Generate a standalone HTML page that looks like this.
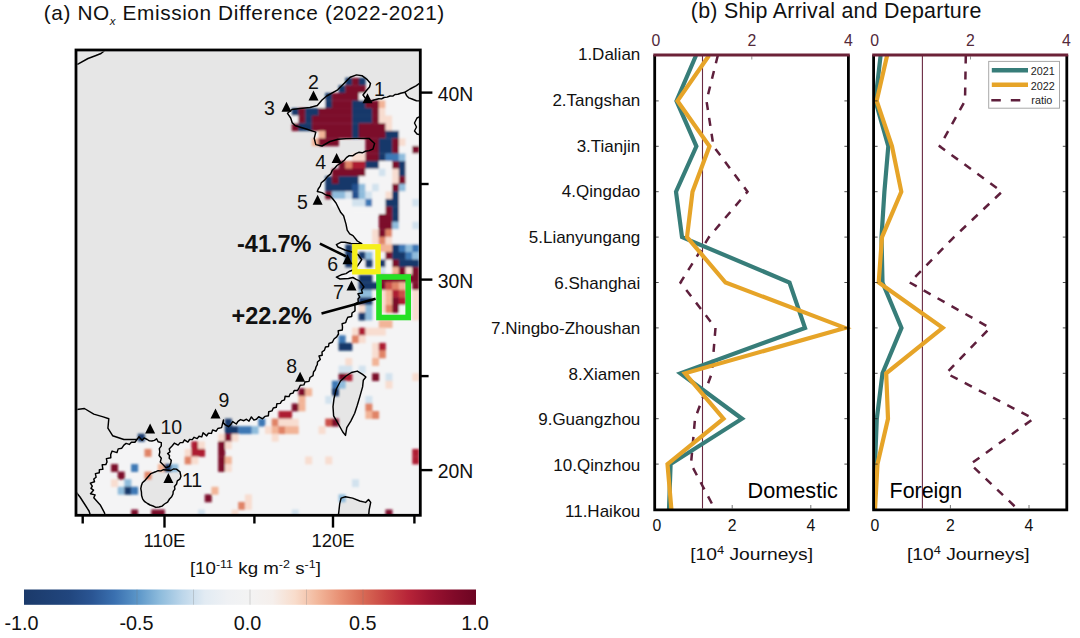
<!DOCTYPE html><html><head><meta charset="utf-8"><title>Figure</title><style>html,body{margin:0;padding:0;background:#fff;width:1080px;height:638px;overflow:hidden}svg{display:block}</style></head><body><svg width="1080" height="638" viewBox="0 0 1080 638" font-family="'Liberation Sans', Arial, sans-serif">
<rect width="1080" height="638" fill="#fff"/>
<text x="43.8" y="19.6" font-size="20.8" fill="#111" textLength="400.5" lengthAdjust="spacing">(a) NO<tspan font-size="11.5" font-style="italic" dy="5.3">x</tspan><tspan dy="-5.3"> Emission Difference (2022-2021)</tspan></text>
<defs><clipPath id="mc"><rect x="77.4" y="51.4" width="341.6" height="462.5"/></clipPath></defs>
<g clip-path="url(#mc)">
<rect x="76" y="50" width="346" height="468" fill="#f4f4f5"/>
<polygon points="76.0,50.0 421.0,50.0 421.0,101.0 416.4,100.7 412.0,99.0 408.9,97.9 406.5,95.4 405.0,92.2 400.7,93.3 397.9,94.3 395.0,94.5 392.8,96.1 390.0,96.0 387.1,97.1 384.0,97.5 381.6,98.9 378.8,98.8 374.0,100.0 370.0,101.5 366.0,99.0 363.0,95.0 366.0,91.0 369.5,87.0 370.5,83.5 367.3,79.7 362.0,75.7 356.5,74.9 350.2,77.2 344.0,83.5 337.7,89.8 326.7,96.0 322.0,100.0 317.3,105.5 310.0,107.5 300.0,108.5 292.0,109.5 287.5,113.3 290.7,118.0 292.2,122.7 295.4,125.8 306.3,129.0 315.8,132.1 314.2,138.4 315.8,144.6 322.0,146.0 330.0,141.5 338.0,139.2 346.0,138.6 356.5,138.4 369.0,138.4 374.6,143.5 373.0,149.0 369.2,150.6 365.2,151.3 362.2,152.8 358.8,152.3 355.8,153.7 353.0,155.7 349.2,155.6 346.4,157.6 344.3,160.2 341.7,162.3 337.0,165.5 334.8,168.0 332.3,170.2 330.7,173.9 327.6,176.4 324.8,179.9 321.3,182.7 320.2,186.1 318.2,189.0 317.3,191.5 322.0,192.6 326.0,195.0 329.8,195.8 332.5,198.5 336.0,203.0 340.8,212.6 343.6,215.7 346.0,224.1 347.2,230.1 349.7,233.8 353.0,235.6 357.3,241.0 361.7,243.7 351.0,243.5 344.8,242.2 341.2,242.2 336.4,244.6 338.0,247.0 345.0,250.0 352.0,252.0 358.4,255.0 361.7,259.6 359.5,263.0 357.3,266.2 353.0,270.0 349.7,271.2 346.0,273.6 341.2,274.8 336.4,277.2 340.0,279.0 348.5,278.5 352.9,277.5 356.2,279.4 359.4,280.9 361.7,283.7 363.9,287.0 361.5,290.0 362.5,293.0 358.0,293.8 359.8,297.1 358.0,299.0 358.3,302.2 354.7,303.9 355.0,307.0 355.0,310.8 352.0,313.0 351.7,316.5 347.8,317.2 346.5,320.0 345.7,322.6 342.1,323.7 342.5,327.0 342.3,330.0 338.2,330.7 338.5,334.0 336.7,336.9 334.0,339.0 332.4,342.2 329.0,343.5 328.5,346.5 325.5,347.0 324.5,350.1 322.0,352.0 322.2,355.3 319.0,356.0 320.3,359.5 317.5,362.0 317.3,364.7 316.0,367.0 315.3,369.8 313.5,372.0 313.0,375.6 310.0,377.5 309.0,381.4 305.0,382.0 303.9,384.9 300.3,385.3 299.0,388.0 297.5,390.5 294.3,390.4 293.0,393.1 290.3,393.8 289.0,396.6 285.1,396.3 284.5,399.9 281.8,400.9 280.3,403.4 276.9,403.7 276.3,407.3 273.3,408.0 272.0,410.9 268.7,411.8 268.4,415.7 264.9,416.4 262.5,418.8 258.7,416.7 256.4,419.2 253.9,420.1 251.4,416.9 249.0,421.2 246.5,419.2 243.9,420.7 240.5,419.6 238.0,421.4 236.3,424.0 232.7,421.6 231.0,424.2 228.5,426.7 225.4,424.9 223.2,422.9 223.5,420.0 222.5,423.8 221.6,427.6 217.8,428.5 216.2,431.2 212.6,429.9 211.5,433.4 208.4,433.2 206.7,435.9 203.1,432.8 201.8,436.9 199.0,436.3 197.2,438.6 194.1,437.3 192.3,439.6 189.6,439.5 187.9,442.1 184.5,439.8 182.8,442.6 180.2,442.6 178.1,445.1 174.3,443.1 172.3,445.8 169.2,448.9 170.0,451.8 167.6,453.6 169.5,455.6 169.2,458.3 171.3,460.2 170.8,463.0 169.4,466.4 166.0,467.7 162.9,464.6 160.3,461.9 161.3,458.3 159.1,455.5 159.8,452.0 159.3,448.6 161.3,445.8 161.3,442.6 158.1,441.7 156.6,438.7 154.5,440.4 151.9,441.0 149.4,440.9 147.2,439.5 144.1,437.9 142.1,440.2 138.9,436.8 137.0,439.5 134.9,442.3 131.4,442.3 129.3,444.4 126.1,443.4 123.9,445.1 121.8,448.2 118.2,448.9 117.0,452.6 112.1,451.1 110.7,454.5 110.8,457.7 106.4,458.6 107.0,462.0 105.8,464.6 102.2,464.8 102.9,469.3 99.4,469.6 99.3,472.7 95.4,473.6 96.1,477.2 93.8,479.0 94.5,481.8 90.3,483.1 92.3,486.2 91.0,488.4 93.5,490.2 90.5,493.7 95.1,494.9 93.8,497.8 100.5,505.3 104.5,512.8 105.5,517.0 76.0,517.0" fill="#e6e6e6"/>
<polygon points="357.3,371.1 362.6,374.4 365.9,377.0 363.3,380.3 362.6,386.9 360.0,396.1 357.3,405.3 354.7,413.2 350.8,421.1 346.8,427.7 345.5,435.4 342.8,432.0 338.9,425.0 333.6,415.8 333.0,406.6 334.0,398.7 336.3,389.0 340.5,381.0 346.0,376.0 351.5,372.5" fill="#e6e6e6"/>
<polygon points="150.9,473.6 155.5,471.8 158.1,470.7 160.9,470.9 163.5,469.7 166.4,470.0 170.9,470.5 173.4,469.0 176.4,469.1 180.0,471.8 180.9,476.4 179.8,479.2 177.3,480.9 176.6,484.0 174.5,486.4 174.9,489.1 173.2,491.4 173.0,494.0 171.7,496.8 169.5,499.0 167.6,502.1 164.5,504.0 162.1,506.1 159.0,507.0 155.9,507.4 153.0,506.0 150.1,505.0 147.5,503.5 144.7,501.7 142.7,499.1 141.6,495.5 141.4,491.8 140.8,488.6 141.4,485.5 142.4,482.8 144.5,480.9" fill="#e6e6e6"/>
<polygon points="338.2,517.0 339.7,503.9 341.1,498.1 345.4,496.7 352.6,498.1 359.8,501.0 365.6,502.4 368.5,499.5 370.7,502.4 369.2,509.6 368.5,517.0" fill="#e6e6e6"/>
<polygon points="421.0,116.0 417.0,118.0 414.5,123.0 416.5,127.0 414.5,131.0 417.0,134.0 421.0,135.0" fill="#e6e6e6"/>
<defs><filter id="bl" x="-5%" y="-5%" width="110%" height="110%"><feGaussianBlur stdDeviation="0.85"/></filter></defs>
<g filter="url(#bl)">
<rect x="345.32" y="77.73" width="6.99" height="7.9" fill="#15386a"/>
<rect x="352.01" y="77.73" width="6.99" height="7.9" fill="#7c0a29"/>
<rect x="358.71" y="77.73" width="6.99" height="7.9" fill="#15386a"/>
<rect x="338.63" y="85.31" width="6.99" height="7.9" fill="#15386a"/>
<rect x="345.32" y="85.31" width="20.38" height="7.9" fill="#7c0a29"/>
<rect x="325.24" y="92.88" width="6.99" height="7.9" fill="#15386a"/>
<rect x="331.93" y="92.88" width="27.08" height="7.9" fill="#7c0a29"/>
<rect x="358.71" y="92.88" width="6.99" height="7.9" fill="#f4f4f5"/>
<rect x="318.54" y="100.45" width="6.99" height="7.9" fill="#f4f4f5"/>
<rect x="325.24" y="100.45" width="6.99" height="7.9" fill="#15386a"/>
<rect x="331.93" y="100.45" width="20.38" height="7.9" fill="#7c0a29"/>
<rect x="352.01" y="100.45" width="13.69" height="7.9" fill="#15386a"/>
<rect x="365.40" y="100.45" width="13.69" height="7.9" fill="#7c0a29"/>
<rect x="378.79" y="100.45" width="6.99" height="7.9" fill="#f2b497"/>
<rect x="385.48" y="100.45" width="33.77" height="7.9" fill="#f4f4f5"/>
<rect x="291.77" y="108.03" width="6.99" height="7.9" fill="#15386a"/>
<rect x="298.46" y="108.03" width="6.99" height="7.9" fill="#7c0a29"/>
<rect x="305.16" y="108.03" width="13.69" height="7.9" fill="#15386a"/>
<rect x="318.54" y="108.03" width="33.77" height="7.9" fill="#7c0a29"/>
<rect x="352.01" y="108.03" width="20.38" height="7.9" fill="#15386a"/>
<rect x="372.10" y="108.03" width="6.99" height="7.9" fill="#7c0a29"/>
<rect x="378.79" y="108.03" width="6.99" height="7.9" fill="#f8ddd0"/>
<rect x="385.48" y="108.03" width="33.77" height="7.9" fill="#f4f4f5"/>
<rect x="291.77" y="115.60" width="6.99" height="7.9" fill="#f4f4f5"/>
<rect x="298.46" y="115.60" width="6.99" height="7.9" fill="#7c0a29"/>
<rect x="305.16" y="115.60" width="6.99" height="7.9" fill="#15386a"/>
<rect x="311.85" y="115.60" width="40.46" height="7.9" fill="#7c0a29"/>
<rect x="352.01" y="115.60" width="20.38" height="7.9" fill="#15386a"/>
<rect x="372.10" y="115.60" width="6.99" height="7.9" fill="#7c0a29"/>
<rect x="378.79" y="115.60" width="13.69" height="7.9" fill="#f8ddd0"/>
<rect x="392.18" y="115.60" width="27.08" height="7.9" fill="#f4f4f5"/>
<rect x="291.77" y="123.18" width="6.99" height="7.9" fill="#7c0a29"/>
<rect x="298.46" y="123.18" width="13.69" height="7.9" fill="#15386a"/>
<rect x="311.85" y="123.18" width="40.46" height="7.9" fill="#7c0a29"/>
<rect x="352.01" y="123.18" width="6.99" height="7.9" fill="#15386a"/>
<rect x="358.71" y="123.18" width="27.08" height="7.9" fill="#7c0a29"/>
<rect x="385.48" y="123.18" width="6.99" height="7.9" fill="#f8ddd0"/>
<rect x="392.18" y="123.18" width="27.08" height="7.9" fill="#f4f4f5"/>
<rect x="318.54" y="130.75" width="6.99" height="7.9" fill="#f2b497"/>
<rect x="325.24" y="130.75" width="27.08" height="7.9" fill="#7c0a29"/>
<rect x="352.01" y="130.75" width="6.99" height="7.9" fill="#15386a"/>
<rect x="358.71" y="130.75" width="27.08" height="7.9" fill="#7c0a29"/>
<rect x="385.48" y="130.75" width="13.69" height="7.9" fill="#15386a"/>
<rect x="398.87" y="130.75" width="20.38" height="7.9" fill="#f4f4f5"/>
<rect x="311.85" y="138.33" width="6.99" height="7.9" fill="#f2b497"/>
<rect x="318.54" y="138.33" width="20.38" height="7.9" fill="#7c0a29"/>
<rect x="365.40" y="138.33" width="13.69" height="7.9" fill="#7c0a29"/>
<rect x="378.79" y="138.33" width="13.69" height="7.9" fill="#15386a"/>
<rect x="392.18" y="138.33" width="6.99" height="7.9" fill="#7c0a29"/>
<rect x="398.87" y="138.33" width="6.99" height="7.9" fill="#f8ddd0"/>
<rect x="405.57" y="138.33" width="13.69" height="7.9" fill="#f4f4f5"/>
<rect x="365.40" y="145.91" width="13.69" height="7.9" fill="#7c0a29"/>
<rect x="378.79" y="145.91" width="13.69" height="7.9" fill="#15386a"/>
<rect x="392.18" y="145.91" width="6.99" height="7.9" fill="#7c0a29"/>
<rect x="398.87" y="145.91" width="13.69" height="7.9" fill="#f4f4f5"/>
<rect x="412.26" y="145.91" width="6.99" height="7.9" fill="#7c0a29"/>
<rect x="352.01" y="153.48" width="13.69" height="7.9" fill="#f8ddd0"/>
<rect x="365.40" y="153.48" width="13.69" height="7.9" fill="#7c0a29"/>
<rect x="378.79" y="153.48" width="6.99" height="7.9" fill="#15386a"/>
<rect x="385.48" y="153.48" width="13.69" height="7.9" fill="#3c78b5"/>
<rect x="398.87" y="153.48" width="6.99" height="7.9" fill="#8fbcdc"/>
<rect x="405.57" y="153.48" width="13.69" height="7.9" fill="#f4f4f5"/>
<rect x="338.63" y="161.06" width="6.99" height="7.9" fill="#7c0a29"/>
<rect x="345.32" y="161.06" width="6.99" height="7.9" fill="#e08366"/>
<rect x="352.01" y="161.06" width="13.69" height="7.9" fill="#ad1d33"/>
<rect x="365.40" y="161.06" width="13.69" height="7.9" fill="#15386a"/>
<rect x="378.79" y="161.06" width="13.69" height="7.9" fill="#f4f4f5"/>
<rect x="392.18" y="161.06" width="6.99" height="7.9" fill="#7c0a29"/>
<rect x="398.87" y="161.06" width="6.99" height="7.9" fill="#15386a"/>
<rect x="405.57" y="161.06" width="13.69" height="7.9" fill="#f4f4f5"/>
<rect x="331.93" y="168.63" width="33.77" height="7.9" fill="#7c0a29"/>
<rect x="365.40" y="168.63" width="13.69" height="7.9" fill="#f4f4f5"/>
<rect x="378.79" y="168.63" width="6.99" height="7.9" fill="#d2e2ee"/>
<rect x="385.48" y="168.63" width="6.99" height="7.9" fill="#f4f4f5"/>
<rect x="392.18" y="168.63" width="6.99" height="7.9" fill="#f8ddd0"/>
<rect x="398.87" y="168.63" width="6.99" height="7.9" fill="#15386a"/>
<rect x="405.57" y="168.63" width="13.69" height="7.9" fill="#f4f4f5"/>
<rect x="325.24" y="176.21" width="6.99" height="7.9" fill="#15386a"/>
<rect x="331.93" y="176.21" width="6.99" height="7.9" fill="#7c0a29"/>
<rect x="338.63" y="176.21" width="20.38" height="7.9" fill="#15386a"/>
<rect x="358.71" y="176.21" width="33.77" height="7.9" fill="#f4f4f5"/>
<rect x="392.18" y="176.21" width="6.99" height="7.9" fill="#f8ddd0"/>
<rect x="398.87" y="176.21" width="6.99" height="7.9" fill="#7c0a29"/>
<rect x="405.57" y="176.21" width="13.69" height="7.9" fill="#f4f4f5"/>
<rect x="325.24" y="183.78" width="27.08" height="7.9" fill="#15386a"/>
<rect x="352.01" y="183.78" width="6.99" height="7.9" fill="#24508e"/>
<rect x="358.71" y="183.78" width="6.99" height="7.9" fill="#8fbcdc"/>
<rect x="365.40" y="183.78" width="6.99" height="7.9" fill="#f4f4f5"/>
<rect x="372.10" y="183.78" width="6.99" height="7.9" fill="#d2e2ee"/>
<rect x="378.79" y="183.78" width="13.69" height="7.9" fill="#f4f4f5"/>
<rect x="392.18" y="183.78" width="6.99" height="7.9" fill="#7c0a29"/>
<rect x="398.87" y="183.78" width="6.99" height="7.9" fill="#8fbcdc"/>
<rect x="405.57" y="183.78" width="13.69" height="7.9" fill="#f4f4f5"/>
<rect x="325.24" y="191.36" width="6.99" height="7.9" fill="#7c0a29"/>
<rect x="331.93" y="191.36" width="13.69" height="7.9" fill="#8fbcdc"/>
<rect x="345.32" y="191.36" width="6.99" height="7.9" fill="#d2e2ee"/>
<rect x="352.01" y="191.36" width="6.99" height="7.9" fill="#24508e"/>
<rect x="358.71" y="191.36" width="6.99" height="7.9" fill="#8fbcdc"/>
<rect x="365.40" y="191.36" width="6.99" height="7.9" fill="#d2e2ee"/>
<rect x="372.10" y="191.36" width="13.69" height="7.9" fill="#f4f4f5"/>
<rect x="385.48" y="191.36" width="6.99" height="7.9" fill="#f8ddd0"/>
<rect x="392.18" y="191.36" width="6.99" height="7.9" fill="#15386a"/>
<rect x="398.87" y="191.36" width="20.38" height="7.9" fill="#f4f4f5"/>
<rect x="331.93" y="198.93" width="20.38" height="7.9" fill="#f4f4f5"/>
<rect x="352.01" y="198.93" width="13.69" height="7.9" fill="#d2e2ee"/>
<rect x="365.40" y="198.93" width="6.99" height="7.9" fill="#3c78b5"/>
<rect x="372.10" y="198.93" width="13.69" height="7.9" fill="#f4f4f5"/>
<rect x="385.48" y="198.93" width="13.69" height="7.9" fill="#15386a"/>
<rect x="398.87" y="198.93" width="13.69" height="7.9" fill="#f4f4f5"/>
<rect x="412.26" y="198.93" width="6.99" height="7.9" fill="#d2e2ee"/>
<rect x="352.01" y="206.51" width="33.77" height="7.9" fill="#f4f4f5"/>
<rect x="385.48" y="206.51" width="6.99" height="7.9" fill="#7c0a29"/>
<rect x="392.18" y="206.51" width="6.99" height="7.9" fill="#15386a"/>
<rect x="398.87" y="206.51" width="20.38" height="7.9" fill="#f4f4f5"/>
<rect x="378.79" y="214.08" width="13.69" height="7.9" fill="#7c0a29"/>
<rect x="392.18" y="214.08" width="6.99" height="7.9" fill="#15386a"/>
<rect x="398.87" y="214.08" width="20.38" height="7.9" fill="#f4f4f5"/>
<rect x="378.79" y="221.66" width="13.69" height="7.9" fill="#7c0a29"/>
<rect x="392.18" y="221.66" width="6.99" height="7.9" fill="#8fbcdc"/>
<rect x="398.87" y="221.66" width="13.69" height="7.9" fill="#f4f4f5"/>
<rect x="412.26" y="221.66" width="6.99" height="7.9" fill="#d2e2ee"/>
<rect x="372.10" y="229.23" width="6.99" height="7.9" fill="#f8ddd0"/>
<rect x="378.79" y="229.23" width="6.99" height="7.9" fill="#7c0a29"/>
<rect x="385.48" y="229.23" width="6.99" height="7.9" fill="#e08366"/>
<rect x="392.18" y="229.23" width="27.08" height="7.9" fill="#f4f4f5"/>
<rect x="372.10" y="236.81" width="6.99" height="7.9" fill="#f8ddd0"/>
<rect x="378.79" y="236.81" width="6.99" height="7.9" fill="#e08366"/>
<rect x="385.48" y="236.81" width="6.99" height="7.9" fill="#f8ddd0"/>
<rect x="392.18" y="236.81" width="27.08" height="7.9" fill="#f4f4f5"/>
<rect x="345.32" y="244.38" width="6.99" height="7.9" fill="#15386a"/>
<rect x="378.79" y="244.38" width="13.69" height="7.9" fill="#f2b497"/>
<rect x="392.18" y="244.38" width="6.99" height="7.9" fill="#15386a"/>
<rect x="398.87" y="244.38" width="6.99" height="7.9" fill="#3c78b5"/>
<rect x="405.57" y="244.38" width="6.99" height="7.9" fill="#8fbcdc"/>
<rect x="412.26" y="244.38" width="6.99" height="7.9" fill="#3c78b5"/>
<rect x="345.32" y="251.96" width="6.99" height="7.9" fill="#15386a"/>
<rect x="358.71" y="251.96" width="6.99" height="7.9" fill="#15386a"/>
<rect x="365.40" y="251.96" width="6.99" height="7.9" fill="#8fbcdc"/>
<rect x="378.79" y="251.96" width="6.99" height="7.9" fill="#f4f4f5"/>
<rect x="385.48" y="251.96" width="6.99" height="7.9" fill="#7c0a29"/>
<rect x="392.18" y="251.96" width="13.69" height="7.9" fill="#15386a"/>
<rect x="405.57" y="251.96" width="6.99" height="7.9" fill="#3c78b5"/>
<rect x="412.26" y="251.96" width="6.99" height="7.9" fill="#8fbcdc"/>
<rect x="345.32" y="259.53" width="6.99" height="7.9" fill="#15386a"/>
<rect x="358.71" y="259.53" width="6.99" height="7.9" fill="#f4f4f5"/>
<rect x="365.40" y="259.53" width="6.99" height="7.9" fill="#15386a"/>
<rect x="378.79" y="259.53" width="6.99" height="7.9" fill="#15386a"/>
<rect x="385.48" y="259.53" width="6.99" height="7.9" fill="#f4f4f5"/>
<rect x="392.18" y="259.53" width="6.99" height="7.9" fill="#7c0a29"/>
<rect x="398.87" y="259.53" width="20.38" height="7.9" fill="#15386a"/>
<rect x="378.79" y="267.11" width="6.99" height="7.9" fill="#d2e2ee"/>
<rect x="385.48" y="267.11" width="6.99" height="7.9" fill="#f4f4f5"/>
<rect x="392.18" y="267.11" width="6.99" height="7.9" fill="#f2b497"/>
<rect x="398.87" y="267.11" width="6.99" height="7.9" fill="#7c0a29"/>
<rect x="405.57" y="267.11" width="6.99" height="7.9" fill="#f8ddd0"/>
<rect x="412.26" y="267.11" width="6.99" height="7.9" fill="#7c0a29"/>
<rect x="358.71" y="274.68" width="13.69" height="7.9" fill="#15386a"/>
<rect x="378.79" y="274.68" width="40.46" height="7.9" fill="#7c0a29"/>
<rect x="358.71" y="282.25" width="20.38" height="7.9" fill="#15386a"/>
<rect x="378.79" y="282.25" width="6.99" height="7.9" fill="#7c0a29"/>
<rect x="385.48" y="282.25" width="6.99" height="7.9" fill="#cc5049"/>
<rect x="392.18" y="282.25" width="6.99" height="7.9" fill="#e08366"/>
<rect x="398.87" y="282.25" width="6.99" height="7.9" fill="#f2b497"/>
<rect x="412.26" y="282.25" width="6.99" height="7.9" fill="#7c0a29"/>
<rect x="358.71" y="289.83" width="13.69" height="7.9" fill="#8fbcdc"/>
<rect x="372.10" y="289.83" width="6.99" height="7.9" fill="#f4f4f5"/>
<rect x="378.79" y="289.83" width="6.99" height="7.9" fill="#f8ddd0"/>
<rect x="385.48" y="289.83" width="6.99" height="7.9" fill="#f2b497"/>
<rect x="392.18" y="289.83" width="6.99" height="7.9" fill="#ad1d33"/>
<rect x="398.87" y="289.83" width="6.99" height="7.9" fill="#cc5049"/>
<rect x="412.26" y="289.83" width="6.99" height="7.9" fill="#f8ddd0"/>
<rect x="358.71" y="297.40" width="13.69" height="7.9" fill="#15386a"/>
<rect x="378.79" y="297.40" width="6.99" height="7.9" fill="#f8ddd0"/>
<rect x="385.48" y="297.40" width="6.99" height="7.9" fill="#f2b497"/>
<rect x="392.18" y="297.40" width="6.99" height="7.9" fill="#7c0a29"/>
<rect x="398.87" y="297.40" width="6.99" height="7.9" fill="#ad1d33"/>
<rect x="412.26" y="297.40" width="6.99" height="7.9" fill="#f8ddd0"/>
<rect x="358.71" y="304.98" width="6.99" height="7.9" fill="#f8ddd0"/>
<rect x="365.40" y="304.98" width="6.99" height="7.9" fill="#8fbcdc"/>
<rect x="378.79" y="304.98" width="6.99" height="7.9" fill="#f8ddd0"/>
<rect x="385.48" y="304.98" width="6.99" height="7.9" fill="#e08366"/>
<rect x="392.18" y="304.98" width="6.99" height="7.9" fill="#7c0a29"/>
<rect x="398.87" y="304.98" width="6.99" height="7.9" fill="#f4f4f5"/>
<rect x="412.26" y="304.98" width="6.99" height="7.9" fill="#f8ddd0"/>
<rect x="358.71" y="312.56" width="6.99" height="7.9" fill="#15386a"/>
<rect x="365.40" y="312.56" width="6.99" height="7.9" fill="#8fbcdc"/>
<rect x="412.26" y="312.56" width="6.99" height="7.9" fill="#f8ddd0"/>
<rect x="378.79" y="320.13" width="13.69" height="7.9" fill="#f2b497"/>
<rect x="352.01" y="327.71" width="6.99" height="7.9" fill="#f8ddd0"/>
<rect x="358.71" y="327.71" width="6.99" height="7.9" fill="#ad1d33"/>
<rect x="365.40" y="327.71" width="20.38" height="7.9" fill="#f8ddd0"/>
<rect x="338.63" y="335.28" width="6.99" height="7.9" fill="#3c78b5"/>
<rect x="352.01" y="335.28" width="6.99" height="7.9" fill="#e08366"/>
<rect x="358.71" y="335.28" width="6.99" height="7.9" fill="#f8ddd0"/>
<rect x="338.63" y="342.86" width="13.69" height="7.9" fill="#15386a"/>
<rect x="372.10" y="342.86" width="6.99" height="7.9" fill="#f8ddd0"/>
<rect x="378.79" y="342.86" width="6.99" height="7.9" fill="#ad1d33"/>
<rect x="372.10" y="350.43" width="6.99" height="7.9" fill="#f8ddd0"/>
<rect x="378.79" y="350.43" width="6.99" height="7.9" fill="#e08366"/>
<rect x="345.32" y="358.00" width="6.99" height="7.9" fill="#f8ddd0"/>
<rect x="372.10" y="358.00" width="6.99" height="7.9" fill="#f2b497"/>
<rect x="338.63" y="365.58" width="13.69" height="7.9" fill="#d2e2ee"/>
<rect x="358.71" y="365.58" width="6.99" height="7.9" fill="#d2e2ee"/>
<rect x="338.63" y="373.16" width="6.99" height="7.9" fill="#7c0a29"/>
<rect x="345.32" y="373.16" width="6.99" height="7.9" fill="#ad1d33"/>
<rect x="372.10" y="373.16" width="6.99" height="7.9" fill="#7c0a29"/>
<rect x="385.48" y="373.16" width="6.99" height="7.9" fill="#d2e2ee"/>
<rect x="412.26" y="373.16" width="6.99" height="7.9" fill="#f8ddd0"/>
<rect x="331.93" y="380.73" width="6.99" height="7.9" fill="#3c78b5"/>
<rect x="338.63" y="380.73" width="6.99" height="7.9" fill="#8fbcdc"/>
<rect x="385.48" y="380.73" width="6.99" height="7.9" fill="#f8ddd0"/>
<rect x="298.46" y="388.31" width="6.99" height="7.9" fill="#7c0a29"/>
<rect x="305.16" y="388.31" width="6.99" height="7.9" fill="#f2b497"/>
<rect x="331.93" y="388.31" width="6.99" height="7.9" fill="#15386a"/>
<rect x="298.46" y="395.88" width="6.99" height="7.9" fill="#f2b497"/>
<rect x="325.24" y="395.88" width="6.99" height="7.9" fill="#d2e2ee"/>
<rect x="365.40" y="395.88" width="6.99" height="7.9" fill="#d2e2ee"/>
<rect x="291.77" y="403.46" width="6.99" height="7.9" fill="#7c0a29"/>
<rect x="298.46" y="403.46" width="6.99" height="7.9" fill="#f2b497"/>
<rect x="365.40" y="403.46" width="6.99" height="7.9" fill="#e08366"/>
<rect x="278.38" y="411.03" width="13.69" height="7.9" fill="#ad1d33"/>
<rect x="365.40" y="411.03" width="6.99" height="7.9" fill="#f2b497"/>
<rect x="372.10" y="411.03" width="6.99" height="7.9" fill="#e08366"/>
<rect x="224.83" y="418.61" width="6.99" height="7.9" fill="#15386a"/>
<rect x="258.30" y="418.61" width="6.99" height="7.9" fill="#3c78b5"/>
<rect x="271.69" y="418.61" width="6.99" height="7.9" fill="#e08366"/>
<rect x="278.38" y="418.61" width="20.38" height="7.9" fill="#f8ddd0"/>
<rect x="325.24" y="418.61" width="6.99" height="7.9" fill="#cc5049"/>
<rect x="331.93" y="418.61" width="6.99" height="7.9" fill="#7c0a29"/>
<rect x="224.83" y="426.18" width="13.69" height="7.9" fill="#15386a"/>
<rect x="238.22" y="426.18" width="13.69" height="7.9" fill="#3c78b5"/>
<rect x="251.60" y="426.18" width="6.99" height="7.9" fill="#8fbcdc"/>
<rect x="264.99" y="426.18" width="6.99" height="7.9" fill="#f8ddd0"/>
<rect x="271.69" y="426.18" width="6.99" height="7.9" fill="#f2b497"/>
<rect x="278.38" y="426.18" width="6.99" height="7.9" fill="#e08366"/>
<rect x="285.07" y="426.18" width="13.69" height="7.9" fill="#f2b497"/>
<rect x="318.54" y="426.18" width="6.99" height="7.9" fill="#f8ddd0"/>
<rect x="137.81" y="433.75" width="6.99" height="7.9" fill="#15386a"/>
<rect x="218.13" y="433.75" width="6.99" height="7.9" fill="#f8ddd0"/>
<rect x="224.83" y="433.75" width="6.99" height="7.9" fill="#7c0a29"/>
<rect x="231.52" y="433.75" width="6.99" height="7.9" fill="#f8ddd0"/>
<rect x="271.69" y="433.75" width="6.99" height="7.9" fill="#f8ddd0"/>
<rect x="191.36" y="441.33" width="6.99" height="7.9" fill="#ad1d33"/>
<rect x="198.05" y="441.33" width="6.99" height="7.9" fill="#f8ddd0"/>
<rect x="218.13" y="441.33" width="6.99" height="7.9" fill="#7c0a29"/>
<rect x="224.83" y="441.33" width="6.99" height="7.9" fill="#f8ddd0"/>
<rect x="144.50" y="448.91" width="6.99" height="7.9" fill="#e08366"/>
<rect x="184.66" y="448.91" width="6.99" height="7.9" fill="#f8ddd0"/>
<rect x="191.36" y="448.91" width="13.69" height="7.9" fill="#ad1d33"/>
<rect x="218.13" y="448.91" width="6.99" height="7.9" fill="#7c0a29"/>
<rect x="412.26" y="448.91" width="6.99" height="7.9" fill="#ad1d33"/>
<rect x="184.66" y="456.48" width="6.99" height="7.9" fill="#e08366"/>
<rect x="191.36" y="456.48" width="6.99" height="7.9" fill="#f8ddd0"/>
<rect x="218.13" y="456.48" width="6.99" height="7.9" fill="#7c0a29"/>
<rect x="224.83" y="456.48" width="6.99" height="7.9" fill="#f2b497"/>
<rect x="305.16" y="456.48" width="6.99" height="7.9" fill="#f8ddd0"/>
<rect x="325.24" y="456.48" width="6.99" height="7.9" fill="#f8ddd0"/>
<rect x="412.26" y="456.48" width="6.99" height="7.9" fill="#ad1d33"/>
<rect x="111.03" y="464.06" width="6.99" height="7.9" fill="#7c0a29"/>
<rect x="131.11" y="464.06" width="6.99" height="7.9" fill="#3c78b5"/>
<rect x="157.89" y="464.06" width="6.99" height="7.9" fill="#f2b497"/>
<rect x="164.58" y="464.06" width="6.99" height="7.9" fill="#15386a"/>
<rect x="171.28" y="464.06" width="6.99" height="7.9" fill="#8fbcdc"/>
<rect x="218.13" y="464.06" width="6.99" height="7.9" fill="#7c0a29"/>
<rect x="224.83" y="464.06" width="6.99" height="7.9" fill="#f8ddd0"/>
<rect x="117.72" y="471.63" width="6.99" height="7.9" fill="#7c0a29"/>
<rect x="144.50" y="471.63" width="6.99" height="7.9" fill="#e08366"/>
<rect x="111.03" y="479.21" width="6.99" height="7.9" fill="#f8ddd0"/>
<rect x="124.42" y="479.21" width="6.99" height="7.9" fill="#8fbcdc"/>
<rect x="352.01" y="479.21" width="6.99" height="7.9" fill="#d2e2ee"/>
<rect x="117.72" y="486.78" width="6.99" height="7.9" fill="#8fbcdc"/>
<rect x="124.42" y="486.78" width="6.99" height="7.9" fill="#15386a"/>
<rect x="131.11" y="486.78" width="6.99" height="7.9" fill="#3c78b5"/>
<rect x="211.44" y="486.78" width="6.99" height="7.9" fill="#f2b497"/>
<rect x="204.75" y="494.36" width="6.99" height="7.9" fill="#7c0a29"/>
<rect x="244.91" y="494.36" width="6.99" height="7.9" fill="#f8ddd0"/>
<rect x="338.63" y="494.36" width="6.99" height="7.9" fill="#8fbcdc"/>
<rect x="238.22" y="501.93" width="6.99" height="7.9" fill="#e08366"/>
<rect x="244.91" y="501.93" width="6.99" height="7.9" fill="#f8ddd0"/>
<rect x="131.11" y="509.50" width="6.99" height="7.9" fill="#7c0a29"/>
<rect x="151.19" y="509.50" width="13.69" height="7.9" fill="#7c0a29"/>
<rect x="198.05" y="509.50" width="6.99" height="7.9" fill="#d2e2ee"/>
<rect x="231.52" y="509.50" width="6.99" height="7.9" fill="#f8ddd0"/>
<rect x="291.77" y="509.50" width="6.99" height="7.9" fill="#d2e2ee"/>
<rect x="385.48" y="509.50" width="6.99" height="7.9" fill="#7c0a29"/>
</g>
<polygon points="76.0,50.0 421.0,50.0 421.0,101.0 416.4,100.7 412.0,99.0 408.9,97.9 406.5,95.4 405.0,92.2 400.7,93.3 397.9,94.3 395.0,94.5 392.8,96.1 390.0,96.0 387.1,97.1 384.0,97.5 381.6,98.9 378.8,98.8 374.0,100.0 370.0,101.5 366.0,99.0 363.0,95.0 366.0,91.0 369.5,87.0 370.5,83.5 367.3,79.7 362.0,75.7 356.5,74.9 350.2,77.2 344.0,83.5 337.7,89.8 326.7,96.0 322.0,100.0 317.3,105.5 310.0,107.5 300.0,108.5 292.0,109.5 287.5,113.3 290.7,118.0 292.2,122.7 295.4,125.8 306.3,129.0 315.8,132.1 314.2,138.4 315.8,144.6 322.0,146.0 330.0,141.5 338.0,139.2 346.0,138.6 356.5,138.4 369.0,138.4 374.6,143.5 373.0,149.0 369.2,150.6 365.2,151.3 362.2,152.8 358.8,152.3 355.8,153.7 353.0,155.7 349.2,155.6 346.4,157.6 344.3,160.2 341.7,162.3 337.0,165.5 334.8,168.0 332.3,170.2 330.7,173.9 327.6,176.4 324.8,179.9 321.3,182.7 320.2,186.1 318.2,189.0 317.3,191.5 322.0,192.6 326.0,195.0 329.8,195.8 332.5,198.5 336.0,203.0 340.8,212.6 343.6,215.7 346.0,224.1 347.2,230.1 349.7,233.8 353.0,235.6 357.3,241.0 361.7,243.7 351.0,243.5 344.8,242.2 341.2,242.2 336.4,244.6 338.0,247.0 345.0,250.0 352.0,252.0 358.4,255.0 361.7,259.6 359.5,263.0 357.3,266.2 353.0,270.0 349.7,271.2 346.0,273.6 341.2,274.8 336.4,277.2 340.0,279.0 348.5,278.5 352.9,277.5 356.2,279.4 359.4,280.9 361.7,283.7 363.9,287.0 361.5,290.0 362.5,293.0 358.0,293.8 359.8,297.1 358.0,299.0 358.3,302.2 354.7,303.9 355.0,307.0 355.0,310.8 352.0,313.0 351.7,316.5 347.8,317.2 346.5,320.0 345.7,322.6 342.1,323.7 342.5,327.0 342.3,330.0 338.2,330.7 338.5,334.0 336.7,336.9 334.0,339.0 332.4,342.2 329.0,343.5 328.5,346.5 325.5,347.0 324.5,350.1 322.0,352.0 322.2,355.3 319.0,356.0 320.3,359.5 317.5,362.0 317.3,364.7 316.0,367.0 315.3,369.8 313.5,372.0 313.0,375.6 310.0,377.5 309.0,381.4 305.0,382.0 303.9,384.9 300.3,385.3 299.0,388.0 297.5,390.5 294.3,390.4 293.0,393.1 290.3,393.8 289.0,396.6 285.1,396.3 284.5,399.9 281.8,400.9 280.3,403.4 276.9,403.7 276.3,407.3 273.3,408.0 272.0,410.9 268.7,411.8 268.4,415.7 264.9,416.4 262.5,418.8 258.7,416.7 256.4,419.2 253.9,420.1 251.4,416.9 249.0,421.2 246.5,419.2 243.9,420.7 240.5,419.6 238.0,421.4 236.3,424.0 232.7,421.6 231.0,424.2 228.5,426.7 225.4,424.9 223.2,422.9 223.5,420.0 222.5,423.8 221.6,427.6 217.8,428.5 216.2,431.2 212.6,429.9 211.5,433.4 208.4,433.2 206.7,435.9 203.1,432.8 201.8,436.9 199.0,436.3 197.2,438.6 194.1,437.3 192.3,439.6 189.6,439.5 187.9,442.1 184.5,439.8 182.8,442.6 180.2,442.6 178.1,445.1 174.3,443.1 172.3,445.8 169.2,448.9 170.0,451.8 167.6,453.6 169.5,455.6 169.2,458.3 171.3,460.2 170.8,463.0 169.4,466.4 166.0,467.7 162.9,464.6 160.3,461.9 161.3,458.3 159.1,455.5 159.8,452.0 159.3,448.6 161.3,445.8 161.3,442.6 158.1,441.7 156.6,438.7 154.5,440.4 151.9,441.0 149.4,440.9 147.2,439.5 144.1,437.9 142.1,440.2 138.9,436.8 137.0,439.5 134.9,442.3 131.4,442.3 129.3,444.4 126.1,443.4 123.9,445.1 121.8,448.2 118.2,448.9 117.0,452.6 112.1,451.1 110.7,454.5 110.8,457.7 106.4,458.6 107.0,462.0 105.8,464.6 102.2,464.8 102.9,469.3 99.4,469.6 99.3,472.7 95.4,473.6 96.1,477.2 93.8,479.0 94.5,481.8 90.3,483.1 92.3,486.2 91.0,488.4 93.5,490.2 90.5,493.7 95.1,494.9 93.8,497.8 100.5,505.3 104.5,512.8 105.5,517.0 76.0,517.0" fill="none" stroke="#000" stroke-width="1.45" stroke-linejoin="round"/>
<polygon points="357.3,371.1 362.6,374.4 365.9,377.0 363.3,380.3 362.6,386.9 360.0,396.1 357.3,405.3 354.7,413.2 350.8,421.1 346.8,427.7 345.5,435.4 342.8,432.0 338.9,425.0 333.6,415.8 333.0,406.6 334.0,398.7 336.3,389.0 340.5,381.0 346.0,376.0 351.5,372.5" fill="none" stroke="#000" stroke-width="1.45" stroke-linejoin="round"/>
<polygon points="150.9,473.6 155.5,471.8 158.1,470.7 160.9,470.9 163.5,469.7 166.4,470.0 170.9,470.5 173.4,469.0 176.4,469.1 180.0,471.8 180.9,476.4 179.8,479.2 177.3,480.9 176.6,484.0 174.5,486.4 174.9,489.1 173.2,491.4 173.0,494.0 171.7,496.8 169.5,499.0 167.6,502.1 164.5,504.0 162.1,506.1 159.0,507.0 155.9,507.4 153.0,506.0 150.1,505.0 147.5,503.5 144.7,501.7 142.7,499.1 141.6,495.5 141.4,491.8 140.8,488.6 141.4,485.5 142.4,482.8 144.5,480.9" fill="none" stroke="#000" stroke-width="1.45" stroke-linejoin="round"/>
<polygon points="338.2,517.0 339.7,503.9 341.1,498.1 345.4,496.7 352.6,498.1 359.8,501.0 365.6,502.4 368.5,499.5 370.7,502.4 369.2,509.6 368.5,517.0" fill="none" stroke="#000" stroke-width="1.45" stroke-linejoin="round"/>
<polygon points="421.0,116.0 417.0,118.0 414.5,123.0 416.5,127.0 414.5,131.0 417.0,134.0 421.0,135.0" fill="none" stroke="#000" stroke-width="1.45" stroke-linejoin="round"/>
<polyline points="405.0,92.2 410.0,89.0 416.4,85.6 421.0,82.0" fill="none" stroke="#000" stroke-width="1.45" stroke-linejoin="round"/>
<polyline points="76.0,64.5 78.8,63.7 88.0,58.5 96.0,55.5 101.0,53.5 103.9,51.2 104.5,49.0" fill="none" stroke="#000" stroke-width="1.45" stroke-linejoin="round"/>
<polyline points="76.0,409.6 84.4,408.5 93.8,414.1 103.2,416.9 108.8,418.8 107.9,428.2 112.6,435.7 123.9,439.5 137.0,439.5" fill="none" stroke="#000" stroke-width="1.45" stroke-linejoin="round"/>
<polyline points="76.0,492.0 80.0,497.0 85.5,505.5 89.0,511.0 91.0,517.0" fill="none" stroke="#000" stroke-width="1.45" stroke-linejoin="round"/>
</g>
<rect x="354.8" y="246.8" width="23.2" height="25" fill="none" stroke="#f5ef1a" stroke-width="5.4"/>
<rect x="379" y="277" width="29.2" height="40.5" fill="none" stroke="#25e025" stroke-width="5.6"/>
<line x1="319.9" y1="243.7" x2="346" y2="256.3" stroke="#000" stroke-width="2.6"/>
<line x1="321.5" y1="313.5" x2="375.6" y2="298.7" stroke="#000" stroke-width="2.6"/>
<polygon points="362.5,103.3 372.5,103.3 367.5,93.3" fill="#000"/>
<polygon points="308.5,100.5 318.5,100.5 313.5,90.5" fill="#000"/>
<polygon points="281.5,111.8 291.5,111.8 286.5,101.8" fill="#000"/>
<polygon points="331.6,163.1 341.6,163.1 336.6,153.1" fill="#000"/>
<polygon points="312.6,204.8 322.6,204.8 317.6,194.8" fill="#000"/>
<polygon points="342.5,264.3 352.5,264.3 347.5,254.3" fill="#000"/>
<polygon points="346.5,290.5 356.5,290.5 351.5,280.5" fill="#000"/>
<polygon points="295.1,381.8 305.1,381.8 300.1,371.8" fill="#000"/>
<polygon points="210.5,418.4 220.5,418.4 215.5,408.4" fill="#000"/>
<polygon points="145.1,433.4 155.1,433.4 150.1,423.4" fill="#000"/>
<polygon points="163.4,483.0 173.4,483.0 168.4,473.0" fill="#000"/>
<text x="379.4" y="95.5" font-size="19.5" fill="#111" text-anchor="middle">1</text>
<text x="313.5" y="89.0" font-size="19.5" fill="#111" text-anchor="middle">2</text>
<text x="269.5" y="115.3" font-size="19.5" fill="#111" text-anchor="middle">3</text>
<text x="320.6" y="168.5" font-size="19.5" fill="#111" text-anchor="middle">4</text>
<text x="302.5" y="209.0" font-size="19.5" fill="#111" text-anchor="middle">5</text>
<text x="332.7" y="270.8" font-size="19.5" fill="#111" text-anchor="middle">6</text>
<text x="338.5" y="299.0" font-size="19.5" fill="#111" text-anchor="middle">7</text>
<text x="291.7" y="372.6" font-size="19.5" fill="#111" text-anchor="middle">8</text>
<text x="224" y="406.5" font-size="19.5" fill="#111" text-anchor="middle">9</text>
<text x="171.3" y="433.6" font-size="19.5" fill="#111" text-anchor="middle">10</text>
<text x="192" y="486.8" font-size="19.5" fill="#111" text-anchor="middle">11</text>
<text x="237" y="252.4" font-size="23.5" font-weight="bold" fill="#111">-41.7%</text>
<text x="231.5" y="323.7" font-size="23.5" font-weight="bold" fill="#111">+22.2%</text>
<rect x="76" y="50" width="344.3" height="465.3" fill="none" stroke="#000" stroke-width="2.8"/>
<line x1="421" y1="92.6" x2="432.4" y2="92.6" stroke="#000" stroke-width="2.4"/>
<text x="437.8" y="100.5" font-size="19.4" fill="#111">40N</text>
<line x1="421" y1="184.0" x2="428.6" y2="184.0" stroke="#000" stroke-width="2.4"/>
<line x1="421" y1="279.6" x2="432.4" y2="279.6" stroke="#000" stroke-width="2.4"/>
<text x="437.8" y="287.5" font-size="19.4" fill="#111">30N</text>
<line x1="421" y1="376.1" x2="428.6" y2="376.1" stroke="#000" stroke-width="2.4"/>
<line x1="421" y1="470.1" x2="432.4" y2="470.1" stroke="#000" stroke-width="2.4"/>
<text x="437.8" y="478.0" font-size="19.4" fill="#111">20N</text>
<line x1="82.7" y1="516" x2="82.7" y2="523.5" stroke="#000" stroke-width="2.4"/>
<line x1="164.5" y1="516" x2="164.5" y2="527.6" stroke="#000" stroke-width="2.4"/>
<text x="164.5" y="547.4" font-size="18.5" fill="#111" text-anchor="middle">110E</text>
<line x1="254.4" y1="516" x2="254.4" y2="523.5" stroke="#000" stroke-width="2.4"/>
<line x1="333.0" y1="516" x2="333.0" y2="527.6" stroke="#000" stroke-width="2.4"/>
<text x="333.0" y="547.4" font-size="18.5" fill="#111" text-anchor="middle">120E</text>
<line x1="414.4" y1="516" x2="414.4" y2="523.5" stroke="#000" stroke-width="2.4"/>
<text x="189.9" y="574.2" font-size="17.2" fill="#111" textLength="131" lengthAdjust="spacingAndGlyphs">[10<tspan font-size="11.5" dy="-6.5">-11</tspan><tspan dy="6.5"> kg m</tspan><tspan font-size="11.5" dy="-6.5">-2</tspan><tspan dy="6.5"> s</tspan><tspan font-size="11.5" dy="-6.5">-1</tspan><tspan dy="6.5">]</tspan></text>
<defs><linearGradient id="cb" x1="0" x2="1" y1="0" y2="0"><stop offset="0.000" stop-color="#1b3a6a"/><stop offset="0.100" stop-color="#21467e"/><stop offset="0.150" stop-color="#2a5593"/><stop offset="0.200" stop-color="#3a70b0"/><stop offset="0.250" stop-color="#5a95c8"/><stop offset="0.300" stop-color="#8dbbdc"/><stop offset="0.350" stop-color="#bcd6ea"/><stop offset="0.400" stop-color="#e2ebf3"/><stop offset="0.450" stop-color="#eff1f4"/><stop offset="0.500" stop-color="#f3f3f3"/><stop offset="0.550" stop-color="#f5efec"/><stop offset="0.600" stop-color="#f8dccb"/><stop offset="0.650" stop-color="#f2b79b"/><stop offset="0.700" stop-color="#e88f73"/><stop offset="0.750" stop-color="#d86a55"/><stop offset="0.800" stop-color="#c94543"/><stop offset="0.850" stop-color="#b72438"/><stop offset="0.900" stop-color="#9b1330"/><stop offset="0.950" stop-color="#820a29"/><stop offset="1.000" stop-color="#6c0422"/></linearGradient></defs>
<rect x="24.0" y="589.5" width="452.0" height="15.3" fill="url(#cb)"/>
<line x1="137.0" y1="589.5" x2="137.0" y2="604.8" stroke="#777" stroke-opacity="0.35" stroke-width="0.8"/>
<line x1="193.5" y1="589.5" x2="193.5" y2="604.8" stroke="#777" stroke-opacity="0.35" stroke-width="0.8"/>
<line x1="250.0" y1="589.5" x2="250.0" y2="604.8" stroke="#777" stroke-opacity="0.35" stroke-width="0.8"/>
<line x1="306.5" y1="589.5" x2="306.5" y2="604.8" stroke="#777" stroke-opacity="0.35" stroke-width="0.8"/>
<line x1="363.0" y1="589.5" x2="363.0" y2="604.8" stroke="#777" stroke-opacity="0.35" stroke-width="0.8"/>
<text x="21.5" y="630" font-size="19.8" fill="#111" text-anchor="middle">-1.0</text>
<text x="136.5" y="630" font-size="19.8" fill="#111" text-anchor="middle">-0.5</text>
<text x="247.5" y="630" font-size="19.8" fill="#111" text-anchor="middle">0.0</text>
<text x="362.8" y="630" font-size="19.8" fill="#111" text-anchor="middle">0.5</text>
<text x="475" y="630" font-size="19.8" fill="#111" text-anchor="middle">1.0</text>
<text x="690.8" y="17.9" font-size="21.4" fill="#111" textLength="290.5" lengthAdjust="spacing">(b) Ship Arrival and Departure</text>
<text x="640.3" y="60.4" font-size="17" fill="#111" text-anchor="end">1.Dalian</text>
<text x="640.3" y="106.0" font-size="17" fill="#111" text-anchor="end">2.Tangshan</text>
<text x="640.3" y="151.6" font-size="17" fill="#111" text-anchor="end">3.Tianjin</text>
<text x="640.3" y="197.3" font-size="17" fill="#111" text-anchor="end">4.Qingdao</text>
<text x="640.3" y="242.9" font-size="17" fill="#111" text-anchor="end">5.Lianyungang</text>
<text x="640.3" y="288.5" font-size="17" fill="#111" text-anchor="end">6.Shanghai</text>
<text x="640.3" y="334.1" font-size="17" fill="#111" text-anchor="end">7.Ningbo-Zhoushan</text>
<text x="640.3" y="379.7" font-size="17" fill="#111" text-anchor="end">8.Xiamen</text>
<text x="640.3" y="425.4" font-size="17" fill="#111" text-anchor="end">9.Guangzhou</text>
<text x="640.3" y="471.0" font-size="17" fill="#111" text-anchor="end">10.Qinzhou</text>
<text x="640.3" y="516.6" font-size="17" fill="#111" text-anchor="end">11.Haikou</text>
<g>
<line x1="702.5" y1="56" x2="702.5" y2="508.5" stroke="#6a2a42" stroke-width="1.1"/>
<polyline points="717.8,55.5 706.5,100.9 713.5,146.3 747.5,191.7 709.0,237.1 680.5,282.5 715.5,327.9 711.8,373.3 695.0,418.7 691.0,464.1 715.0,509.5" fill="none" stroke="#5e1f3c" stroke-width="2.5" stroke-dasharray="8 8"/>
<polyline points="696.0,55.5 676.5,100.9 696.4,146.3 676.0,191.7 682.0,237.1 789.5,282.5 805.0,327.9 680.4,373.3 742.0,418.7 670.6,464.1 669.0,509.5" fill="none" stroke="#377d79" stroke-width="4.2" stroke-linejoin="miter"/>
<polyline points="709.0,55.5 677.5,100.9 709.5,146.3 692.5,191.7 687.0,237.1 725.5,282.5 845.0,327.9 685.0,373.3 723.5,418.7 667.5,464.1 671.4,509.5" fill="none" stroke="#e6a428" stroke-width="4.2" stroke-linejoin="miter"/>
<line x1="655.7" y1="100.9" x2="658.7" y2="100.9" stroke="#222" stroke-width="0.8"/>
<line x1="844.4" y1="100.9" x2="847.4" y2="100.9" stroke="#222" stroke-width="0.8"/>
<line x1="655.7" y1="146.3" x2="658.7" y2="146.3" stroke="#222" stroke-width="0.8"/>
<line x1="844.4" y1="146.3" x2="847.4" y2="146.3" stroke="#222" stroke-width="0.8"/>
<line x1="655.7" y1="191.7" x2="658.7" y2="191.7" stroke="#222" stroke-width="0.8"/>
<line x1="844.4" y1="191.7" x2="847.4" y2="191.7" stroke="#222" stroke-width="0.8"/>
<line x1="655.7" y1="237.1" x2="658.7" y2="237.1" stroke="#222" stroke-width="0.8"/>
<line x1="844.4" y1="237.1" x2="847.4" y2="237.1" stroke="#222" stroke-width="0.8"/>
<line x1="655.7" y1="282.5" x2="658.7" y2="282.5" stroke="#222" stroke-width="0.8"/>
<line x1="844.4" y1="282.5" x2="847.4" y2="282.5" stroke="#222" stroke-width="0.8"/>
<line x1="655.7" y1="327.9" x2="658.7" y2="327.9" stroke="#222" stroke-width="0.8"/>
<line x1="844.4" y1="327.9" x2="847.4" y2="327.9" stroke="#222" stroke-width="0.8"/>
<line x1="655.7" y1="373.3" x2="658.7" y2="373.3" stroke="#222" stroke-width="0.8"/>
<line x1="844.4" y1="373.3" x2="847.4" y2="373.3" stroke="#222" stroke-width="0.8"/>
<line x1="655.7" y1="418.7" x2="658.7" y2="418.7" stroke="#222" stroke-width="0.8"/>
<line x1="844.4" y1="418.7" x2="847.4" y2="418.7" stroke="#222" stroke-width="0.8"/>
<line x1="655.7" y1="464.1" x2="658.7" y2="464.1" stroke="#222" stroke-width="0.8"/>
<line x1="844.4" y1="464.1" x2="847.4" y2="464.1" stroke="#222" stroke-width="0.8"/>
<line x1="732.2" y1="505" x2="732.2" y2="508.5" stroke="#555" stroke-width="0.8"/>
<line x1="810.8" y1="505" x2="810.8" y2="508.5" stroke="#555" stroke-width="0.8"/>
<line x1="751.8" y1="56.3" x2="751.8" y2="59.5" stroke="#777" stroke-width="0.8"/>
<path d="M654.7,55 L654.7,509.8 L848.4,509.8 L848.4,55" fill="none" stroke="#000" stroke-width="2.8"/>
<line x1="653.3000000000001" y1="55" x2="849.8" y2="55" stroke="#6c2238" stroke-width="2.8"/>
<text x="747.5" y="497.6" font-size="21.5" fill="#000" textLength="90.3" lengthAdjust="spacingAndGlyphs">Domestic</text>
<text x="656" y="45.6" font-size="15.8" fill="#52293a" text-anchor="middle">0</text>
<text x="751.8" y="45.6" font-size="15.8" fill="#52293a" text-anchor="middle">2</text>
<text x="848.5" y="45.6" font-size="15.8" fill="#52293a" text-anchor="middle">4</text>
<text x="657" y="530.9" font-size="15.8" fill="#111" text-anchor="middle">0</text>
<text x="732.2" y="530.9" font-size="15.8" fill="#111" text-anchor="middle">2</text>
<text x="810.8" y="530.9" font-size="15.8" fill="#111" text-anchor="middle">4</text>
<text x="690.2" y="560" font-size="17.3" fill="#111" textLength="122.8" lengthAdjust="spacingAndGlyphs">[10<tspan font-size="11.5" dy="-6.5">4</tspan><tspan dy="6.5"> Journeys]</tspan></text>
</g>
<g>
<line x1="922.4" y1="56" x2="922.4" y2="508.5" stroke="#6a2a42" stroke-width="1.1"/>
<polyline points="965.8,55.5 965.0,100.9 939.7,146.3 1002.0,191.7 954.0,237.1 909.7,282.5 990.0,327.9 946.3,373.3 1033.4,418.7 970.5,464.1 1018.0,509.5" fill="none" stroke="#5e1f3c" stroke-width="2.5" stroke-dasharray="8 8"/>
<polyline points="880.6,55.5 875.4,100.9 888.3,146.3 884.4,191.7 881.5,237.1 882.5,282.5 901.5,327.9 882.5,373.3 876.8,418.7 875.0,464.1 874.5,509.5" fill="none" stroke="#377d79" stroke-width="4.2" stroke-linejoin="miter"/>
<polyline points="887.1,55.5 876.7,100.9 892.0,146.3 901.3,191.7 882.0,237.1 878.7,282.5 942.7,327.9 886.2,373.3 888.0,418.7 877.5,464.1 875.0,509.5" fill="none" stroke="#e6a428" stroke-width="4.2" stroke-linejoin="miter"/>
<line x1="874.6" y1="100.9" x2="877.6" y2="100.9" stroke="#222" stroke-width="0.8"/>
<line x1="1062.8" y1="100.9" x2="1065.8" y2="100.9" stroke="#222" stroke-width="0.8"/>
<line x1="874.6" y1="146.3" x2="877.6" y2="146.3" stroke="#222" stroke-width="0.8"/>
<line x1="1062.8" y1="146.3" x2="1065.8" y2="146.3" stroke="#222" stroke-width="0.8"/>
<line x1="874.6" y1="191.7" x2="877.6" y2="191.7" stroke="#222" stroke-width="0.8"/>
<line x1="1062.8" y1="191.7" x2="1065.8" y2="191.7" stroke="#222" stroke-width="0.8"/>
<line x1="874.6" y1="237.1" x2="877.6" y2="237.1" stroke="#222" stroke-width="0.8"/>
<line x1="1062.8" y1="237.1" x2="1065.8" y2="237.1" stroke="#222" stroke-width="0.8"/>
<line x1="874.6" y1="282.5" x2="877.6" y2="282.5" stroke="#222" stroke-width="0.8"/>
<line x1="1062.8" y1="282.5" x2="1065.8" y2="282.5" stroke="#222" stroke-width="0.8"/>
<line x1="874.6" y1="327.9" x2="877.6" y2="327.9" stroke="#222" stroke-width="0.8"/>
<line x1="1062.8" y1="327.9" x2="1065.8" y2="327.9" stroke="#222" stroke-width="0.8"/>
<line x1="874.6" y1="373.3" x2="877.6" y2="373.3" stroke="#222" stroke-width="0.8"/>
<line x1="1062.8" y1="373.3" x2="1065.8" y2="373.3" stroke="#222" stroke-width="0.8"/>
<line x1="874.6" y1="418.7" x2="877.6" y2="418.7" stroke="#222" stroke-width="0.8"/>
<line x1="1062.8" y1="418.7" x2="1065.8" y2="418.7" stroke="#222" stroke-width="0.8"/>
<line x1="874.6" y1="464.1" x2="877.6" y2="464.1" stroke="#222" stroke-width="0.8"/>
<line x1="1062.8" y1="464.1" x2="1065.8" y2="464.1" stroke="#222" stroke-width="0.8"/>
<line x1="950.4" y1="505" x2="950.4" y2="508.5" stroke="#555" stroke-width="0.8"/>
<line x1="1029" y1="505" x2="1029" y2="508.5" stroke="#555" stroke-width="0.8"/>
<line x1="970.5" y1="56.3" x2="970.5" y2="59.5" stroke="#777" stroke-width="0.8"/>
<path d="M873.6,55 L873.6,509.8 L1066.8,509.8 L1066.8,55" fill="none" stroke="#000" stroke-width="2.8"/>
<line x1="872.2" y1="55" x2="1068.2" y2="55" stroke="#6c2238" stroke-width="2.8"/>
<text x="889.6" y="497.6" font-size="21.5" fill="#000" textLength="72.6" lengthAdjust="spacingAndGlyphs">Foreign</text>
<text x="874.7" y="45.6" font-size="15.8" fill="#52293a" text-anchor="middle">0</text>
<text x="970.5" y="45.6" font-size="15.8" fill="#52293a" text-anchor="middle">2</text>
<text x="1066.5" y="45.6" font-size="15.8" fill="#52293a" text-anchor="middle">4</text>
<text x="875" y="530.9" font-size="15.8" fill="#111" text-anchor="middle">0</text>
<text x="950.4" y="530.9" font-size="15.8" fill="#111" text-anchor="middle">2</text>
<text x="1029" y="530.9" font-size="15.8" fill="#111" text-anchor="middle">4</text>
<text x="906.9" y="560" font-size="17.3" fill="#111" textLength="122.8" lengthAdjust="spacingAndGlyphs">[10<tspan font-size="11.5" dy="-6.5">4</tspan><tspan dy="6.5"> Journeys]</tspan></text>
</g>
<rect x="988.7" y="61.4" width="70.8" height="46.8" fill="#fff" stroke="#a8a8a8" stroke-width="1"/>
<line x1="991.8" y1="70.2" x2="1028" y2="70.2" stroke="#377d79" stroke-width="4.4"/>
<line x1="991.8" y1="84.7" x2="1028" y2="84.7" stroke="#e6a428" stroke-width="4.4"/>
<line x1="991.3" y1="100.3" x2="1021" y2="100.3" stroke="#5e1f3c" stroke-width="2.6" stroke-dasharray="9.5 10"/>
<text x="1030.8" y="75.3" font-size="10.8" fill="#222">2021</text>
<text x="1030.8" y="89.6" font-size="10.8" fill="#222">2022</text>
<text x="1031.3" y="103.6" font-size="10.8" fill="#222">ratio</text>
</svg></body></html>
